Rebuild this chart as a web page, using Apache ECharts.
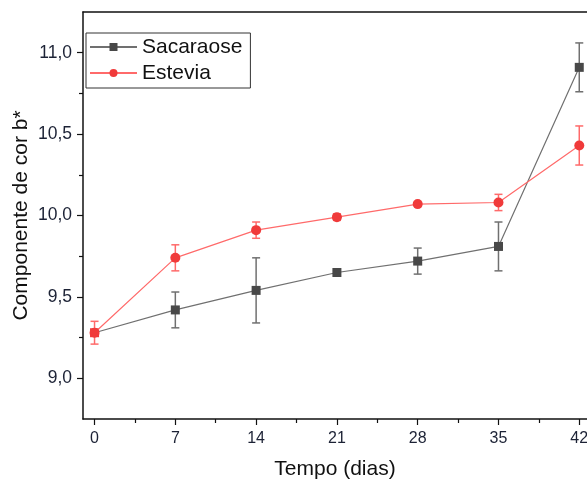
<!DOCTYPE html>
<html>
<head>
<meta charset="utf-8">
<script src="https://cdn.jsdelivr.net/npm/echarts@6/dist/echarts.min.js"></script>
<style>
  html, body { margin: 0; padding: 0; background: #fff; }
  #chart { width: 587px; height: 483px; }
</style>
</head>
<body>
<div id="chart"></div>
<script>
// dados
var dias = [0, 7, 14, 21, 28, 35, 42];
var sacaraose = [9.28, 9.42, 9.54, 9.65, 9.72, 9.81, 10.91];
var sacaraoseErr = [0.0, 0.11, 0.20, 0.01, 0.08, 0.15, 0.15];
var estevia = [9.28, 9.74, 9.91, 9.99, 10.07, 10.08, 10.43];
var esteviaErr = [0.07, 0.08, 0.05, 0.02, 0.01, 0.05, 0.12];
var xTicks = [0, 7, 14, 21, 28, 35, 42];
var xMinor = [3.5, 10.5, 17.5, 24.5, 31.5, 38.5];
var yTicks = [9.0, 9.5, 10.0, 10.5, 11.0];
var yMinor = [9.25, 9.75, 10.25, 10.75];

var font = 'Arial, "Liberation Sans", sans-serif';
var corSac = '#484848';
var corSacLinha = '#707070';
var corEst = '#f03a3a';
var corEstLinha = '#ff6a6a';
var corEixo = '#111';

var myChart = echarts.init(document.getElementById('chart'));

function pares(xs, ys) {
	var out = [];
	for (var i = 0; i < xs.length; i++) out.push([xs[i], ys[i]]);
	return out;
}

function barrasErro(vals, errs) {
	var out = [];
	for (var i = 0; i < dias.length; i++) {
		out.push([dias[i], vals[i] - errs[i], vals[i] + errs[i]]);
	}
	return out;
}

function desenhaErro(cor) {
	return function (params, api) {
		var x = api.value(0);
		var lo = api.coord([x, api.value(1)]);
		var hi = api.coord([x, api.value(2)]);
		var w = 4;
		var st = { stroke: cor, lineWidth: 1.5 };
		return {
			type: 'group',
			children: [
				{ type: 'line', shape: { x1: lo[0], y1: lo[1], x2: hi[0], y2: hi[1] }, style: st },
				{ type: 'line', shape: { x1: lo[0] - w, y1: lo[1], x2: lo[0] + w, y2: lo[1] }, style: st },
				{ type: 'line', shape: { x1: hi[0] - w, y1: hi[1], x2: hi[0] + w, y2: hi[1] }, style: st }
			]
		};
	};
}

var sacData = pares(dias, sacaraose);
// o primeiro ponto aparece vermelho (sobreposto)
sacData[0] = { value: sacData[0], itemStyle: { color: corEst } };

// eixo extra so para marcas / linhas
function eixoExtra(pos, min, max, ticks, showLine) {
	return {
		type: 'value',
		position: pos,
		min: min, max: max,
		axisLine: { show: showLine, onZero: false, lineStyle: { color: corEixo, width: 1.5 } },
		axisTick: ticks ? { show: true, length: 4, customValues: ticks, lineStyle: { color: corEixo, width: 1.2 } } : { show: false },
		axisLabel: { show: false },
		splitLine: { show: false }
	};
}

var option = {
	animation: false,
	grid: { left: 83, top: 12, right: 0, bottom: 64, outerBoundsMode: 'none' },
	legend: {
		orient: 'vertical',
		left: 86, top: 33,
		borderColor: '#333', borderWidth: 1,
		padding: [2, 8, 3, 3],
		itemGap: 2,
		itemWidth: 47, itemHeight: 10,
		textStyle: { fontFamily: font, fontSize: 21, color: '#111', lineHeight: 24 },
		data: ['Sacaraose', 'Estevia']
	},
	xAxis: [{
		type: 'value',
		min: -1, max: 42.67,
		name: 'Tempo (dias)',
		nameLocation: 'middle',
		nameGap: 40,
		nameMoveOverlap: false,
		nameTextStyle: { fontFamily: font, fontSize: 21, color: '#111' },
		axisLine: { show: true, onZero: false, lineStyle: { color: corEixo, width: 1.5 } },
		axisTick: { show: true, length: 6, customValues: xTicks, lineStyle: { color: corEixo, width: 1.2 } },
		axisLabel: { customValues: xTicks, margin: 12, fontFamily: font, fontSize: 16, color: '#1c2235' },
		splitLine: { show: false }
	},
		eixoExtra('bottom', -1, 42.67, xMinor, false),
		eixoExtra('top', -1, 42.67, null, true)
	],
	yAxis: [{
		type: 'value',
		min: 8.75, max: 11.25,
		name: 'Componente de cor b*',
		nameLocation: 'middle',
		nameGap: 51,
		nameMoveOverlap: false,
		nameTextStyle: { fontFamily: font, fontSize: 21, color: '#111' },
		axisLine: { show: true, onZero: false, lineStyle: { color: corEixo, width: 1.5 } },
		axisTick: { show: true, length: 6, customValues: yTicks, lineStyle: { color: corEixo, width: 1.2 } },
		axisLabel: {
			customValues: yTicks, margin: 11,
			fontFamily: font, fontSize: 17.5, color: '#1c2235',
			formatter: function (v) { return v.toFixed(1).replace('.', ','); }
		},
		splitLine: { show: false }
	},
		eixoExtra('left', 8.75, 11.25, yMinor, false)
	],
	series: [
		{
			name: 'SacErr',
			type: 'custom',
			z: 1,
			renderItem: desenhaErro(corSacLinha),
			data: barrasErro(sacaraose, sacaraoseErr)
		},
		{
			name: 'EstErr',
			type: 'custom',
			z: 1,
			renderItem: desenhaErro(corEstLinha),
			data: barrasErro(estevia, esteviaErr)
		},
		{
			name: 'Sacaraose',
			type: 'line',
			z: 3,
			symbol: 'rect',
			symbolSize: 9,
			itemStyle: { color: corSac },
			lineStyle: { color: corSacLinha, width: 1.2 },
			data: sacData
		},
		{
			name: 'Estevia',
			type: 'line',
			z: 4,
			symbol: 'circle',
			symbolSize: 10,
			itemStyle: { color: corEst },
			lineStyle: { color: corEstLinha, width: 1.2 },
			data: pares(dias, estevia)
		}
	]
};

myChart.setOption(option);
</script>
</body>
</html>
